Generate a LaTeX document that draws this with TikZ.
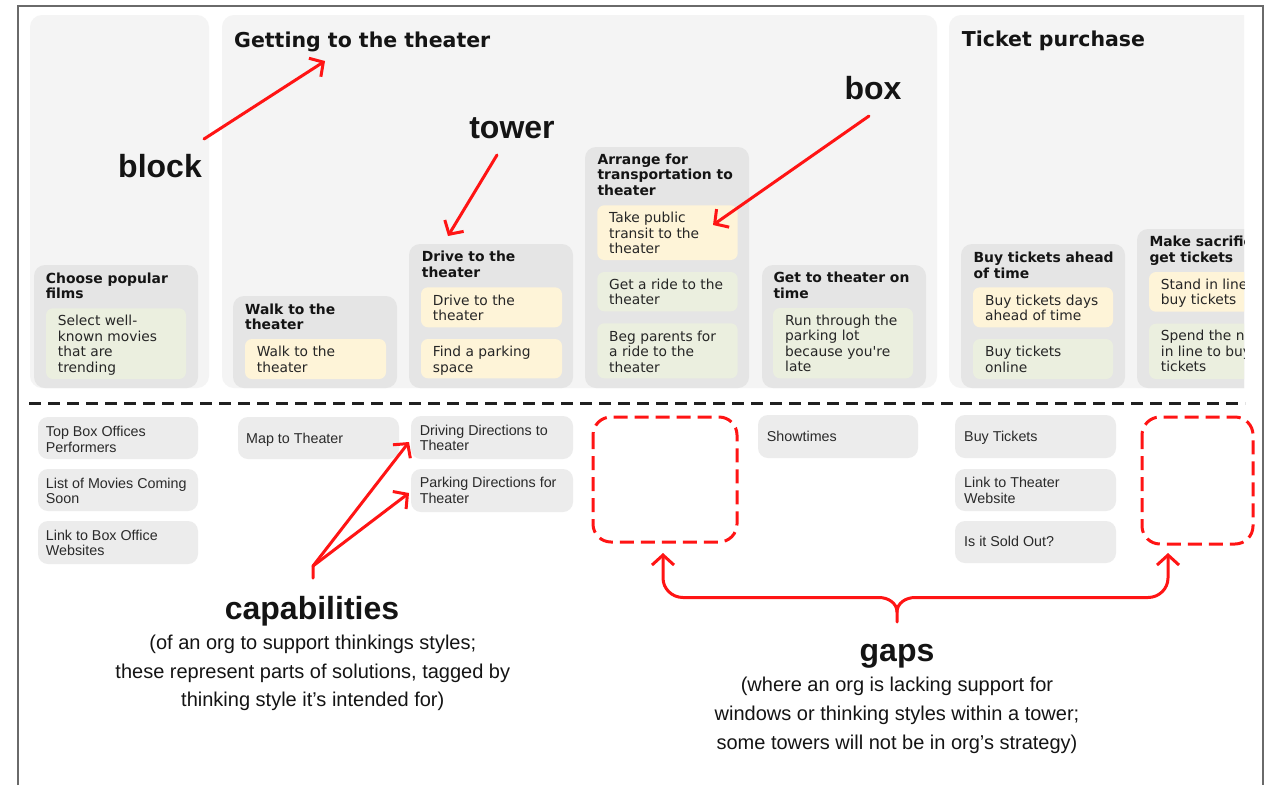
\documentclass[tikz,border=0pt]{standalone}
\usepackage{fontspec}
\setmainfont{DejaVu Sans}
\newfontfamily\dvs{DejaVu Sans}
\newfontfamily\lib{Liberation Sans}
\usetikzlibrary{arrows.meta}
\definecolor{blockc}{HTML}{F4F4F4}
\definecolor{towerc}{HTML}{E5E5E5}
\definecolor{yelc}{HTML}{FEF4D8}
\definecolor{grnc}{HTML}{EBEFDF}
\definecolor{capc}{HTML}{ECECEC}
\definecolor{redc}{HTML}{FF1414}
\definecolor{inkc}{HTML}{141414}
\definecolor{boxink}{HTML}{262626}
\definecolor{capink}{HTML}{2A2A2A}
\definecolor{framec}{HTML}{6A6A6A}
\definecolor{sepc}{HTML}{202020}
\newcommand\blkfont{\dvs\bfseries\fontsize{20.5}{24}\selectfont}
\newcommand\ttlfont{\dvs\bfseries\fontsize{13.9}{15.5}\selectfont}
\newcommand\bxfont{\dvs\fontsize{13.8}{15.4}\selectfont}
\newcommand\capfont{\lib\fontsize{14.3}{15.5}\selectfont}
\newcommand\annfont{\lib\bfseries\fontsize{32}{36}\selectfont}
\newcommand\subfont{\lib\fontsize{20}{28.7}\selectfont}
\tikzset{
  blockbg/.style={fill=blockc, rounded corners=12pt},
  towerbg/.style={fill=towerc, rounded corners=11pt},
  yelbox/.style={fill=yelc, rounded corners=7pt},
  grnbox/.style={fill=grnc, rounded corners=7pt},
  capbox/.style={fill=capc, rounded corners=10pt},
  gapbox/.style={draw=redc, line width=3pt, dash pattern=on 14pt off 7pt, rounded corners=18pt},
  blktitle/.style={anchor=base west, inner sep=0pt, font=\blkfont, text=inkc},
  twrtitle/.style={anchor=north west, inner sep=0pt, align=left, font=\ttlfont, text=inkc},
  boxtext/.style={anchor=north west, inner sep=0pt, align=left, font=\bxfont, text=boxink},
  captext/.style={anchor=north west, inner sep=0pt, align=left, font=\capfont, text=capink},
  capline/.style={anchor=base west, inner sep=0pt, font=\capfont, text=capink},
  annlabel/.style={anchor=base, inner sep=0pt, font=\annfont, text=inkc},
  annsub/.style={anchor=north, inner sep=0pt, align=center, font=\subfont, text=inkc},
  redline/.style={draw=redc, line width=3pt, line cap=round, line join=round},
  redarr/.style={redline, -{Straight Barb[length=10pt,width=22pt]}},
  sepline/.style={draw=sepc, line width=2.8pt, dash pattern=on 12pt off 7pt},
}
\begin{document}
\begin{tikzpicture}[x=1pt,y=-1pt]
\useasboundingbox (0,0) rectangle (1271,785);
\fill[white] (0,0) rectangle (1271,785);
% frame
\coordinate (frBL) at (18,785);
\coordinate (frTL) at (18,6);
\coordinate (frTR) at (1263,6);
\coordinate (frBR) at (1263,785);
\draw[framec, line width=1.5pt] (frBL) -- (frTL) -- (frTR) -- (frBR);
% blocks
\path[blockbg] (30,15) rectangle (209,388);
\path[blockbg] (222,15) rectangle (937,388);
% towers
\path[towerbg] (34,265) rectangle (198,388);
\path[towerbg] (233,296) rectangle (397,388);
\path[towerbg] (409,244) rectangle (573,388);
\path[towerbg] (585,147) rectangle (749,388);
\path[towerbg] (762,265) rectangle (926,388);
% boxes
\path[grnbox] (46,308.3) rectangle (186,379);
\path[yelbox] (245,339) rectangle (386,379);
\path[yelbox] (421,287.3) rectangle (562,327.3);
\path[yelbox] (421,339) rectangle (562,378.3);
\path[yelbox] (597.3,205.3) rectangle (737.7,260);
\path[grnbox] (597.3,272) rectangle (737.7,311.3);
\path[grnbox] (597.3,323.3) rectangle (737.7,378.3);
\path[grnbox] (773,308) rectangle (913,378.3);
% block 3 (cut at right, as in the reference)
\begin{scope}
\clip (940,0) rectangle (1244,400);
\path[blockbg] (949,15) rectangle (1280,388);
\path[towerbg] (961,244) rectangle (1125,388);
\path[yelbox] (973,287.3) rectangle (1113,327.3);
\path[grnbox] (973,339) rectangle (1113,379);
\path[towerbg] (1137,229) rectangle (1301,388);
\path[yelbox] (1149,272) rectangle (1289,311.7);
\path[grnbox] (1149,323.7) rectangle (1289,379);
\node[twrtitle] (t7) at (1149.3,236.2) {Make sacrifices to\\get tickets};
\node[boxtext] (t7a) at (1160.7,278.8) {Stand in line to\\buy tickets};
\node[boxtext] (t7b) at (1160.7,330.2) {Spend the night\\in line to buy\\tickets};
\end{scope}
% block titles
\node[blktitle] (b2) at (234,47.3) {Getting to the theater};
\node[blktitle] (b3) at (961.7,46.7) {Ticket purchase};
% tower titles
\node[twrtitle] (t1) at (45.7,272.5) {Choose popular\\films};
\node[twrtitle] (t2) at (245,303.5) {Walk to the\\theater};
\node[twrtitle] (t3) at (421.7,251.2) {Drive to the\\theater};
\node[twrtitle] (t4) at (597.3,153.5) {Arrange for\\transportation to\\theater};
\node[twrtitle] (t5) at (773.3,272.2) {Get to theater on\\time};
\node[twrtitle] (t6) at (973.3,251.8) {Buy tickets ahead\\of time};
% box texts
\node[boxtext] (t1a) at (57.7,315.2) {Select well-\\known movies\\that are\\trending};
\node[boxtext] (t2a) at (256.7,346.2) {Walk to the\\theater};
\node[boxtext] (t3a) at (432.7,294.5) {Drive to the\\theater};
\node[boxtext] (t3b) at (432.7,346.2) {Find a parking\\space};
\node[boxtext] (t4a) at (609,212.2) {Take public\\transit to the\\theater};
\node[boxtext] (t4b) at (609,278.5) {Get a ride to the\\theater};
\node[boxtext] (t4c) at (609,330.8) {Beg parents for\\a ride to the\\theater};
\node[boxtext] (t5a) at (785,314.8) {Run through the\\parking lot\\because you're\\late};
\node[boxtext] (t6a) at (985,294.5) {Buy tickets days\\ahead of time};
\node[boxtext] (t6b) at (985,346.2) {Buy tickets\\online};
% separator
\coordinate (sepL) at (29,403.5);
\coordinate (sepR) at (1245,403.5);
\draw[sepline] (sepL) -- (sepR);
% capability boxes
\path[capbox] (38,417) rectangle (198,459);
\path[capbox] (38,469) rectangle (198,511);
\path[capbox] (38,521) rectangle (198,564);
\path[capbox] (238,417) rectangle (399,459);
\path[capbox] (411,416) rectangle (573,459);
\path[capbox] (411,469) rectangle (573,512);
\path[capbox] (758,415) rectangle (918,458);
\path[capbox] (955,415) rectangle (1116,458);
\path[capbox] (955,469) rectangle (1116,511);
\path[capbox] (955,521) rectangle (1116,563);
\node[captext] (c1) at (45.7,426.3) {Top Box Offices\\Performers};
\node[captext] (c2) at (45.7,477.9) {List of Movies Coming\\Soon};
\node[captext] (c3) at (45.7,529.6) {Link to Box Office\\Websites};
\node[capline] (c4) at (246,443.3) {Map to Theater};
\node[captext] (c5) at (419.6,424.6) {Driving Directions to\\Theater};
\node[captext] (c6) at (419.6,477.3) {Parking Directions for\\Theater};
\node[capline] (c7) at (766.7,441.7) {Showtimes};
\node[capline] (c8) at (964,441.7) {Buy Tickets};
\node[captext] (c9) at (964,477.3) {Link to Theater\\Website};
\node[capline] (c10) at (964,546.7) {Is it Sold Out?};
% gaps
\draw[gapbox] (593,417) rectangle (737,542);
\draw[gapbox] (1142,417) rectangle (1253,544);
% annotations
\node[annlabel] (lblock) at (160,177.7) {block};
\node[annlabel] (ltower) at (512,138.3) {tower};
\node[annlabel] (lbox) at (873,99.3) {box};
\coordinate (blockA) at (204,139);
\coordinate (blockB) at (325,61);
\coordinate (towerA) at (497,155);
\coordinate (towerB) at (448,236);
\coordinate (boxA) at (869,116);
\coordinate (boxB) at (713,225);
\draw[redarr] (blockA) -- (blockB);
\draw[redarr] (towerA) -- (towerB);
\draw[redarr] (boxA) -- (boxB);
\node[annlabel] (lcap) at (312,619.3) {capabilities};
\node[annsub] (lcapsub) at (312.8,634.7) {(of an org to support thinkings styles;\\these represent parts of solutions, tagged by\\thinking style it’s intended for)};
\node[annlabel] (lgaps) at (897,661.7) {gaps};
\node[annsub] (lgapsub) at (897,677.1) {(where an org is lacking support for\\windows or thinking styles within a tower;\\some towers will not be in org’s strategy)};
\coordinate (capA) at (313,578);
\coordinate (capF) at (313,566);
\coordinate (tipD) at (409,442);
\coordinate (tipP) at (409,493);
\draw[redarr] (capA) -- (capF) -- (tipD);
\draw[redarr] (capF) -- (tipP);
\coordinate (g1tip) at (663,553);
\coordinate (g2tip) at (1168,553);
\coordinate (braceC) at (897,612);
\coordinate (braceB) at (897,622);
\draw[redline, {Straight Barb[length=10pt,width=22pt]}-] (g1tip) -- (663,578) to[out=-90,in=180] (683,597.5) -- (879,597.5) to[out=0,in=90] (braceC) -- (braceB);
\draw[redline, {Straight Barb[length=10pt,width=22pt]}-] (g2tip) -- (1168,578) to[out=-90,in=0] (1148,597.5) -- (915,597.5) to[out=180,in=90] (braceC);
\end{tikzpicture}
\end{document}
